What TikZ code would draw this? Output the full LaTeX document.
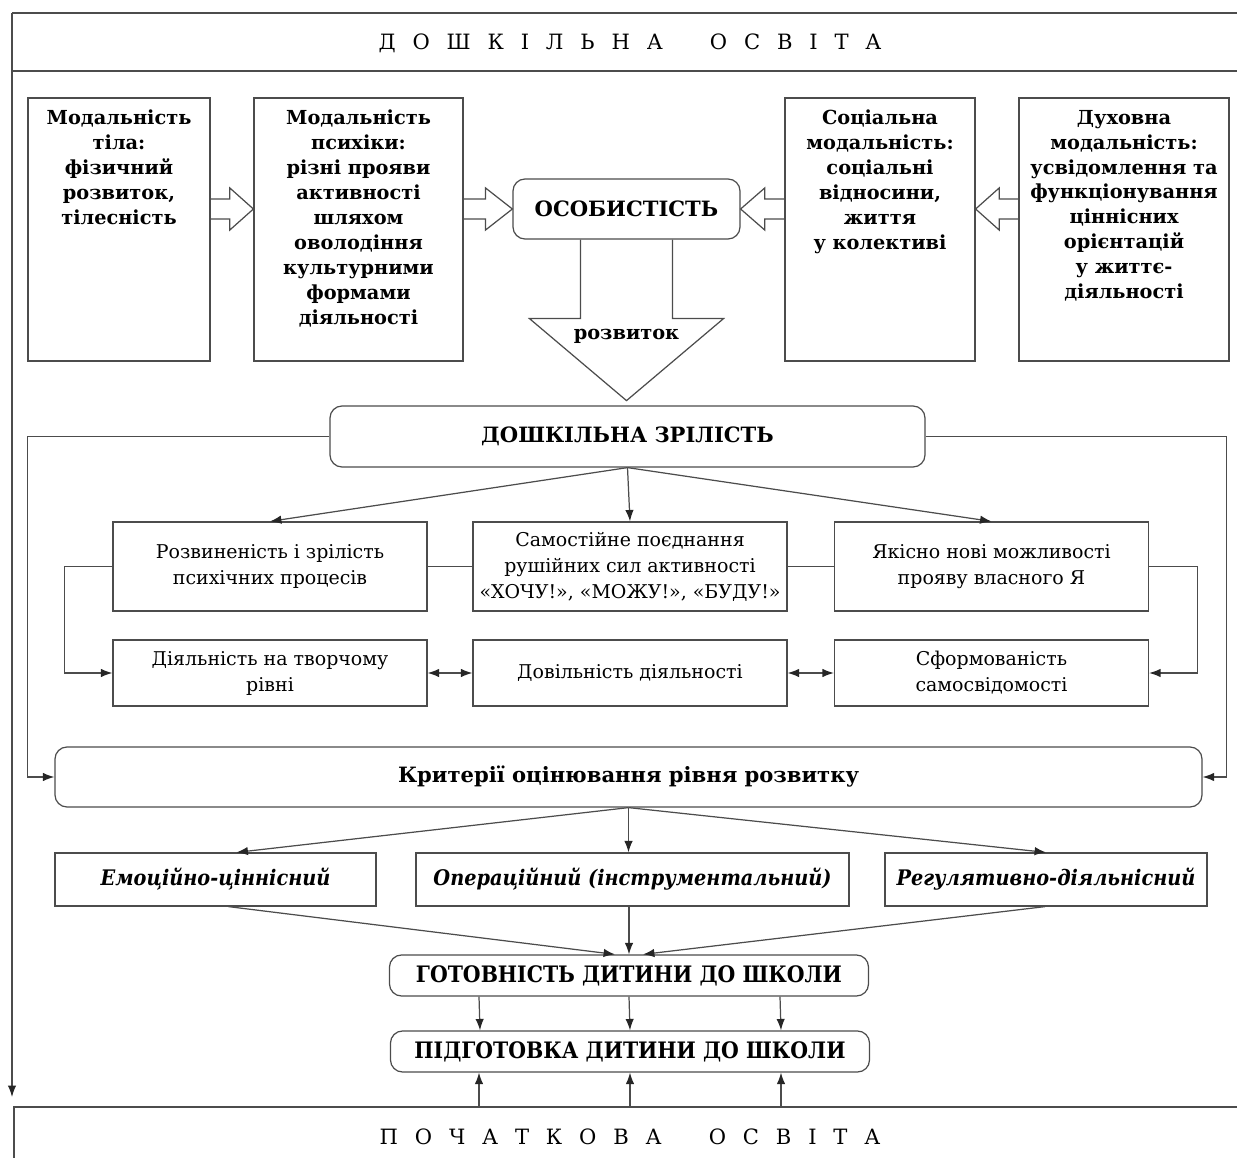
\documentclass[tikz,border=0pt]{standalone}
\usepackage{fontspec}
\setmainfont{DejaVu Serif}
\newfontfamily\condfont{DejaVu Serif Condensed}
\newfontfamily\trackfont[LetterSpace=80]{DejaVu Serif}
\usepackage{tikz}
\usetikzlibrary{positioning}
\usetikzlibrary{calc}
\usetikzlibrary{arrows.meta}
\pgfdeclarelayer{nodelayer}
\pgfdeclarelayer{edgelayer}
\pgfsetlayers{nodelayer,edgelayer,main}

\newlength{\pxu}
\setlength{\pxu}{0.02cm}
\newcommand{\topfont}{\bfseries\fontsize{11}{14.2}\selectfont}
\newcommand{\midfont}{\fontsize{10.8}{14.8}\selectfont}
\newcommand{\titlefont}{\bfseries\fontsize{12}{14}\selectfont}
\newcommand{\critfont}{\condfont\bfseries\itshape\fontsize{12.2}{15}\selectfont}
\newcommand{\schoolfont}{\condfont\bfseries\fontsize{12.9}{15}\selectfont}
\newcommand{\trackedfont}{\trackfont\fontsize{12}{14}\selectfont}

% hollow block arrow: start, tip, where the head begins
\newcommand{\hollowarrow}[3]{%
  \draw [edgeline] ($(#1)+(0,-10)$) -- ($(#1)!#3!(#2)+(0,-10)$) -- ($(#1)!#3!(#2)+(0,-21)$)
    -- (#2) -- ($(#1)!#3!(#2)+(0,21)$) -- ($(#1)!#3!(#2)+(0,10)$) -- ($(#1)+(0,10)$);}

\tikzset{
  edgeline/.style={draw=black!70, line width=0.7pt},
  arr/.style={edgeline, -{Latex[length=6.5pt, width=4.8pt, color=black!85]}},
  dbl/.style={edgeline, {Latex[length=6.5pt, width=4.8pt, color=black!85]}-{Latex[length=6.5pt, width=4.8pt, color=black!85]}},
  box/.style={edgeline, rectangle, inner sep=2pt, align=center},
  modbox/.style={box, minimum height=263\pxu},
  modtext/.style={anchor=north, align=center, font=\topfont, inner sep=7pt},
  midbox/.style={box, font=\midfont, minimum width=314\pxu},
  roundbox/.style={box, rounded corners=12\pxu, font=\titlefont},
  critbox/.style={box, font=\critfont, minimum height=53\pxu},
  schoolbox/.style={box, rounded corners=12\pxu, font=\schoolfont, minimum width=479\pxu, minimum height=41\pxu},
}

\begin{document}
\begin{tikzpicture}[x=0.02cm, y=-0.02cm]
  \useasboundingbox (0,0) rectangle (1237,1158);
  \begin{pgfonlayer}{nodelayer}
    \node [font=\trackedfont] (0) at (630, 43) {ДОШКІЛЬНА\ \ ОСВІТА};
    \node [font=\trackedfont] (1) at (630, 1137) {ПОЧАТКОВА\ \ ОСВІТА};
    \node [modbox, minimum width=182\pxu, label={[modtext]north:Модальність\\тіла:\\фізичний\\розвиток,\\тілесність}] (2) at (119, 229.5) {};
    \node [modbox, minimum width=209\pxu, label={[modtext]north:Модальність\\психіки:\\різні прояви\\активності\\шляхом\\оволодіння\\культурними\\формами\\діяльності}] (3) at (358.5, 229.5) {};
    \node [roundbox, minimum width=227\pxu, minimum height=60\pxu] (4) at (626.5, 209) {ОСОБИСТІСТЬ};
    \node [modbox, minimum width=190\pxu, label={[modtext]north:Соціальна\\модальність:\\соціальні\\відносини,\\життя\\у колективі}] (5) at (880, 229.5) {};
    \node [modbox, minimum width=210\pxu, label={[modtext]north:Духовна\\модальність:\\усвідомлення та\\функціонування\\ціннісних\\орієнтацій\\у життє-\\діяльності}] (6) at (1124, 229.5) {};
    \node [font=\topfont] (7) at (626.5, 336) {розвиток};
    \node [roundbox, minimum width=595\pxu, minimum height=61\pxu] (8) at (627.5, 436.5) {ДОШКІЛЬНА ЗРІЛІСТЬ};
    \node [midbox, minimum height=89\pxu] (9) at (270, 566.5) {Розвиненість і зрілість\\психічних процесів};
    \node [midbox, minimum height=89\pxu] (10) at (630, 566.5) {Самостійне поєднання\\рушійних сил активності\\«ХОЧУ!», «МОЖУ!», «БУДУ!»};
    \node [midbox, minimum height=89\pxu] (11) at (991.5, 566.5) {Якісно нові можливості\\прояву власного Я};
    \node [midbox, minimum height=66\pxu] (12) at (270, 673) {Діяльність на творчому\\рівні};
    \node [midbox, minimum height=66\pxu] (13) at (630, 673) {Довільність діяльності};
    \node [midbox, minimum height=66\pxu] (14) at (991.5, 673) {Сформованість\\самосвідомості};
    \node [roundbox, minimum width=1147\pxu, minimum height=60\pxu] (15) at (628.5, 777) {Критерії оцінювання рівня розвитку};
    \node [critbox, minimum width=321\pxu] (16) at (215.5, 879.5) {Емоційно-ціннісний};
    \node [critbox, minimum width=433\pxu] (17) at (632.5, 879.5) {Операційний (інструментальний)};
    \node [critbox, minimum width=322\pxu] (18) at (1046, 879.5) {Регулятивно-діяльнісний};
    \node [schoolbox] (19) at (629, 975.5) {ГОТОВНІСТЬ ДИТИНИ ДО ШКОЛИ};
    \node [schoolbox] (20) at (630, 1051.5) {ПІДГОТОВКА ДИТИНИ ДО ШКОЛИ};
    \coordinate (21) at (12, 13);
    \coordinate (22) at (12, 1097);
    \coordinate (23) at (630, 1107);
  \end{pgfonlayer}
  \begin{pgfonlayer}{edgelayer}
    % frames of the two levels of education
    \draw [edgeline] (1237, 13) -- (21);
    \draw [edgeline] (12, 71) -- (1237, 71);
    \draw [arr] (21) -- (22);
    \draw [edgeline] (14, 1158) -- (14, 1107) -- (1237, 1107);
    % modalities
    \hollowarrow{2.east |- 4}{3.west |- 4}{0.45}
    \hollowarrow{3.east |- 4}{4.west}{0.45}
    \hollowarrow{5.west |- 4}{4.east}{0.45}
    \hollowarrow{6.west |- 4}{5.east |- 4}{0.45}
    \draw [edgeline] ($(4.south)+(-46,0)$) -- ++(0,79) -- ++(-51,0) -- ($(4.south)+(0,161)$)
      -- ++(97,-82) -- ++(-51,0) -- ++(0,-79);
    % maturity
    \draw [arr] (8.south) -- (9.north);
    \draw [arr] (8.south) -- (10.north);
    \draw [arr] (8.south) -- (11.north);
    \draw [edgeline] (9) -- (10);
    \draw [edgeline] (10) -- (11);
    \draw [dbl] (12) -- (13);
    \draw [dbl] (13) -- (14);
    \draw [arr] (9.west) -- ++(-48,0) |- (12.west);
    \draw [arr] (11.east) -- ++(48,0) |- (14.east);
    \draw [arr] (8.west) -- ++(-302,0) |- (15.west);
    \draw [arr] (8.east) -- ++(301,0) |- (15.east);
    % criteria
    \draw [arr] (15.south) -- ($(16.north)+(21,0)$);
    \draw [arr] (15.south) -- (15.south |- 17.north);
    \draw [arr] (15.south) -- (18.north);
    \draw [arr] ($(16.south)+(13,0)$) -- ($(19.north)+(-14,0)$);
    \draw [arr] (19.north |- 17.south) -- (19.north);
    \draw [arr] ($(18.south)+(-1,0)$) -- ($(19.north)+(14,0)$);
    \foreach \dx in {-150,0,151}
      \draw [arr] ($(19.south)+(\dx,0)$) -- ($(20.north)+(\dx,0)$);
    \foreach \dx in {-151,0,151}
      \draw [arr] ($(23)+(\dx,0)$) -- ($(20.south)+(\dx,0)$);
  \end{pgfonlayer}
\end{tikzpicture}
\end{document}
